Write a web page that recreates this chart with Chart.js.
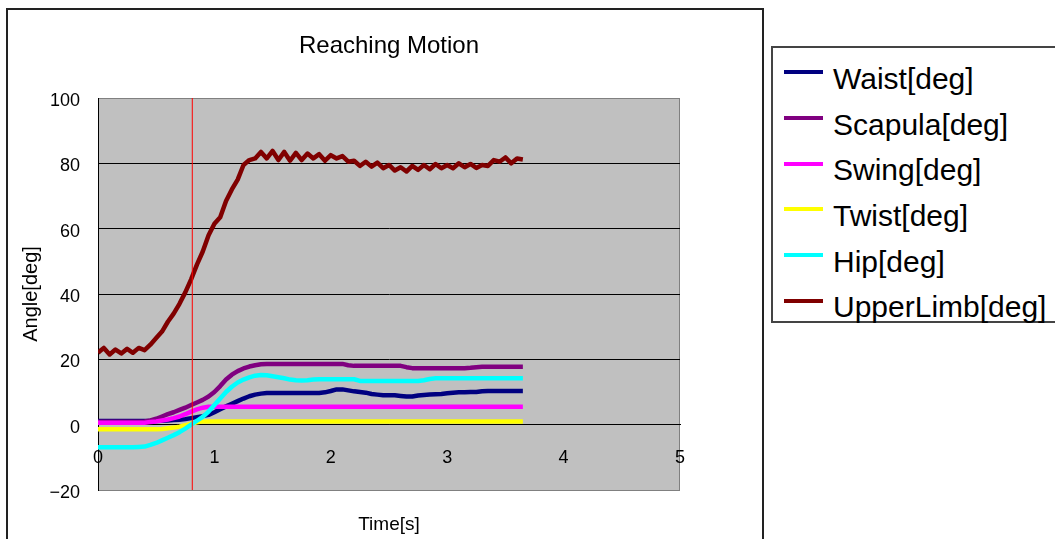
<!DOCTYPE html>
<html>
<head>
<meta charset="utf-8">
<title>Reaching Motion</title>
<script src="https://cdn.jsdelivr.net/npm/chart.js"></script>
<style>
  body { margin: 0; background: #fff; font-family: 'Liberation Sans', Arial, sans-serif; }
  #wrap { position: relative; width: 1055px; height: 539px; overflow: hidden; }
  #frame { position: absolute; left: 6px; top: 8px; width: 754px; height: 600px; border: 2px solid #222; }
  #chart { position: absolute; left: 0; top: 0; }
  #legend { position: absolute; left: 771px; top: 46px; width: 300px; height: 273px; border: 2px solid #444; background: #fff; }
  .swatch { position: absolute; left: 11px; width: 39px; height: 4px; }
  .label { position: absolute; left: 60px; font-size: 30px; line-height: 30px; white-space: nowrap; color: #000; }
</style>
</head>
<body>
<div id="wrap">
  <div id="frame"></div>
  <canvas id="chart" width="1055" height="539"></canvas>
  <div id="legend"></div>
</div>
<script>
// time axis [s], one sample every 0.05 s
const times = [0, 0.05, 0.1, 0.15, 0.2, 0.25, 0.3, 0.35, 0.4, 0.45,
  0.5, 0.55, 0.6, 0.65, 0.7, 0.75, 0.8, 0.85, 0.9, 0.95,
  1, 1.05, 1.1, 1.15, 1.2, 1.25, 1.3, 1.35, 1.4, 1.45,
  1.5, 1.55, 1.6, 1.65, 1.7, 1.75, 1.8, 1.85, 1.9, 1.95,
  2, 2.05, 2.1, 2.15, 2.2, 2.25, 2.3, 2.35, 2.4, 2.45,
  2.5, 2.55, 2.6, 2.65, 2.7, 2.75, 2.8, 2.85, 2.9, 2.95,
  3, 3.05, 3.1, 3.15, 3.2, 3.25, 3.3, 3.35, 3.4, 3.45,
  3.5, 3.55, 3.6, 3.65];

const waist = [1.1, 1.1, 1.1, 1.1, 1.1, 1.1, 1.1, 1.1, 1.1, 1.1,
  1.1, 1.2, 1.3, 1.4, 1.5, 1.7, 2.0, 2.3, 2.6, 3.0,
  3.8, 4.7, 5.6, 6.4, 7.2, 8.0, 8.7, 9.2, 9.5, 9.7,
  9.7, 9.7, 9.7, 9.7, 9.7, 9.7, 9.7, 9.7, 9.7, 9.9,
  10.3, 10.8, 10.8, 10.5, 10.2, 10.0, 9.8, 9.4, 9.2, 9.0,
  9.0, 9.0, 8.8, 8.6, 8.6, 8.9, 9.1, 9.2, 9.3, 9.4,
  9.6, 9.8, 9.9, 9.9, 10.0, 10.0, 10.2, 10.3, 10.3, 10.3,
  10.3, 10.3, 10.3, 10.3];

const scapula = [0.9, 0.9, 0.9, 0.9, 0.9, 0.9, 0.9, 0.9, 1.0, 1.3,
  1.8, 2.5, 3.2, 3.8, 4.5, 5.2, 6.0, 6.8, 7.6, 8.6,
  10.0, 11.8, 13.8, 15.3, 16.4, 17.2, 17.8, 18.2, 18.5, 18.6,
  18.6, 18.6, 18.6, 18.6, 18.6, 18.6, 18.6, 18.6, 18.6, 18.6,
  18.6, 18.6, 18.6, 18.2, 18.0, 18.0, 18.0, 18.0, 18.0, 18.0,
  18.0, 18.0, 18.0, 17.6, 17.3, 17.3, 17.3, 17.3, 17.3, 17.3,
  17.3, 17.3, 17.3, 17.3, 17.4, 17.6, 17.7, 17.7, 17.7, 17.7,
  17.7, 17.7, 17.7, 17.7];

const swing = [0.6, 0.6, 0.6, 0.6, 0.6, 0.6, 0.6, 0.6, 0.6, 0.8,
  1.0, 1.3, 1.6, 2.0, 2.5, 3.2, 4.0, 4.7, 5.2, 5.5,
  5.5, 5.5, 5.5, 5.5, 5.5, 5.5, 5.5, 5.5, 5.5, 5.5,
  5.5, 5.5, 5.5, 5.5, 5.5, 5.5, 5.5, 5.5, 5.5, 5.5,
  5.5, 5.5, 5.5, 5.5, 5.5, 5.5, 5.5, 5.5, 5.5, 5.5,
  5.5, 5.5, 5.5, 5.5, 5.5, 5.5, 5.5, 5.5, 5.5, 5.5,
  5.5, 5.5, 5.5, 5.5, 5.5, 5.5, 5.5, 5.5, 5.5, 5.5,
  5.5, 5.5, 5.5, 5.5];

const twist = [-1.4, -1.4, -1.4, -1.4, -1.4, -1.4, -1.4, -1.4, -1.4, -1.4,
  -1.4, -1.3, -1.1, -0.9, -0.6, -0.2, 0.3, 0.7, 1.0, 1.0,
  1.0, 1.0, 1.0, 1.0, 1.0, 1.0, 1.0, 1.0, 1.0, 1.0,
  1.0, 1.0, 1.0, 1.0, 1.0, 1.0, 1.0, 1.0, 1.0, 1.0,
  1.0, 1.0, 1.0, 1.0, 1.0, 1.0, 1.0, 1.0, 1.0, 1.0,
  1.0, 1.0, 1.0, 1.0, 1.0, 1.0, 1.0, 1.0, 1.0, 1.0,
  1.0, 1.0, 1.0, 1.0, 1.0, 1.0, 1.0, 1.0, 1.0, 1.0,
  1.0, 1.0, 1.0, 1.0];

const hip = [-6.9, -6.9, -6.9, -6.9, -6.9, -6.9, -6.9, -6.8, -6.7, -6.2,
  -5.6, -4.8, -4.0, -3.2, -2.3, -1.2, 0.0, 1.2, 2.4, 4.0,
  6.0, 8.0, 10.0, 11.6, 12.9, 13.8, 14.5, 15.0, 15.2, 15.1,
  14.8, 14.5, 14.2, 13.8, 13.6, 13.5, 13.6, 13.8, 13.9, 13.9,
  13.9, 13.9, 13.9, 13.9, 13.9, 13.4, 13.4, 13.4, 13.4, 13.4,
  13.4, 13.4, 13.4, 13.4, 13.4, 13.4, 13.6, 14.0, 14.2, 14.2,
  14.2, 14.2, 14.2, 14.2, 14.2, 14.2, 14.2, 14.2, 14.2, 14.2,
  14.2, 14.2, 14.2, 14.2];

const upperLimb = [22, 23.5, 21.5, 23, 21.8, 23.2, 22, 23.5, 22.8, 24.5,
  26.5, 28.5, 31.5, 34, 37, 40.5, 44.5, 49, 53, 58,
  61.5, 63.5, 68.5, 72, 75, 79.5, 81, 81.5, 83.5, 81.5,
  83.8, 81, 83.5, 80.8, 83.2, 81, 83, 81.5, 82.8, 80.8,
  82.5, 81.5, 82.2, 80.5, 80.8, 79.2, 80.5, 79, 80.2, 78.5,
  79.5, 77.8, 78.8, 77.5, 79.2, 78, 79.5, 78.2, 79.8, 78.5,
  79.5, 78.5, 80, 78.8, 79.8, 78.6, 79.5, 79.2, 81, 80.5,
  81.8, 80, 81.5, 81.2];

const seriesNames = ['Waist[deg]', 'Scapula[deg]', 'Swing[deg]', 'Twist[deg]', 'Hip[deg]', 'UpperLimb[deg]'];
const seriesValues = [waist, scapula, swing, twist, hip, upperLimb];
const seriesColors = ['#000080', '#800080', '#FF00FF', '#FFFF00', '#00FFFF', '#800000'];

// red cursor line
const markerTime = 0.81;

// axis ranges
const xMin = 0, xMax = 5, xStep = 1;
const yMin = -20, yMax = 100, yStep = 20;

Chart.defaults.font.family = "'Liberation Sans', Arial, sans-serif";
Chart.defaults.color = '#000';

// gray plot area with a thin outline, like the spreadsheet chart
const plotArea = {
  id: 'plotArea',
  beforeDraw(chart) {
    const ctx = chart.ctx;
    const a = chart.chartArea;
    ctx.save();
    ctx.fillStyle = '#C0C0C0';
    ctx.fillRect(a.left, a.top, a.right - a.left, a.bottom - a.top);
    ctx.strokeStyle = '#808080';
    ctx.lineWidth = 1;
    ctx.strokeRect(a.left + 0.5, a.top + 0.5, a.right - a.left - 1, a.bottom - a.top);
    ctx.restore();
  }
};

function toPoints(values) {
  return times.map((t, i) => ({ x: t, y: values[i] }));
}

const datasets = seriesValues.map((vals, i) => ({
  label: seriesNames[i],
  data: toPoints(vals),
  borderColor: seriesColors[i],
  backgroundColor: seriesColors[i],
  borderWidth: 4.5,
  borderJoinStyle: 'round',
  borderCapStyle: 'butt',
  pointRadius: 0,
  order: seriesValues.length - i
}));

datasets.push({
  label: '',
  data: [{ x: markerTime, y: yMin }, { x: markerTime, y: yMax }],
  borderColor: '#FF0000',
  borderWidth: 1,
  pointRadius: 0,
  order: 0
});

const chart = new Chart(document.getElementById('chart'), {
  type: 'line',
  data: { datasets: datasets },
  options: {
    responsive: false,
    animation: false,
    events: [],
    layout: { padding: { left: 0, top: 12, right: 375, bottom: 49 } },
    plugins: {
      legend: { display: false },
      tooltip: { enabled: false },
      title: {
        display: true,
        text: 'Reaching Motion',
        fullSize: false,
        font: { size: 24, weight: 'normal' },
        padding: { top: 20, bottom: 37.2 }
      }
    },
    scales: {
      x: {
        type: 'linear',
        min: xMin,
        max: xMax,
        position: { y: 0 },
        grid: { display: false, drawTicks: false },
        border: { display: true, color: '#000', width: 1 },
        ticks: { stepSize: xStep, padding: 23, font: { size: 18 } },
        title: { display: true, text: 'Time[s]', font: { size: 19 }, padding: 0 },
        afterFit(scale) { scale.height = 111.4; }
      },
      y: {
        min: yMin,
        max: yMax,
        grid: {
          drawTicks: false,
          lineWidth: 1,
          color: (c) => (c.tick && (c.tick.value === yMax || c.tick.value === yMin)) ? 'rgba(0,0,0,0)' : '#000'
        },
        border: { display: true, color: '#000', width: 1 },
        ticks: {
          stepSize: yStep,
          padding: 18,
          labelOffset: 3,
          font: { size: 18 },
          callback: (v) => v < 0 ? '\u2212' + Math.abs(v) : String(v)
        },
        title: { display: true, text: 'Angle[deg]', font: { size: 20 }, padding: { top: 19, bottom: 0 } },
        afterFit(scale) { scale.width = 98; }
      }
    }
  },
  plugins: [plotArea]
});

// legend box built from the chart's own datasets
const legendBox = document.getElementById('legend');
chart.data.datasets.filter(d => d.label).forEach((d, i) => {
  const sw = document.createElement('div');
  sw.className = 'swatch';
  sw.style.top = (22.3 + i * 45.7) + 'px';
  sw.style.background = d.borderColor;
  legendBox.appendChild(sw);

  const lb = document.createElement('div');
  lb.className = 'label';
  lb.style.top = (15.9 + i * 45.7) + 'px';
  lb.textContent = d.label;
  legendBox.appendChild(lb);
});
</script>
</body>
</html>
